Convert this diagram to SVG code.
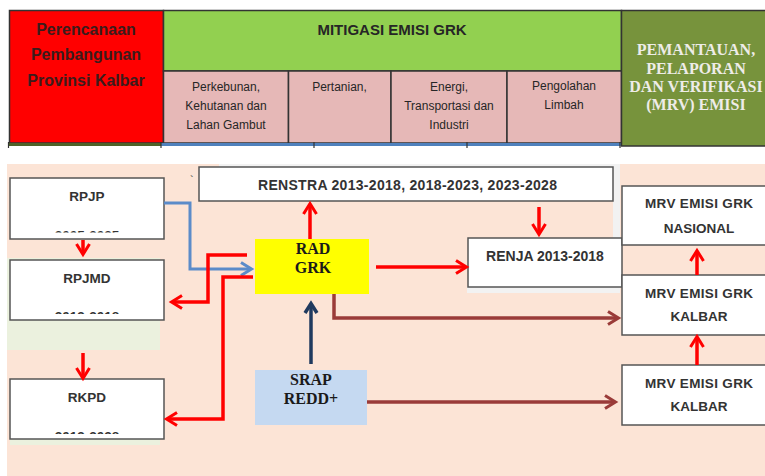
<svg xmlns="http://www.w3.org/2000/svg" width="765" height="476" viewBox="0 0 765 476">
<defs>
<style>
.t{font-family:'Liberation Sans',Arial,sans-serif;fill:#333;text-anchor:middle;font-weight:bold}
.n{font-weight:normal;fill:#262626;font-size:12px}
.sf{font-family:'Liberation Serif','Times New Roman',serif;font-weight:bold;text-anchor:middle;font-size:16px}
.box{fill:#fff;stroke:#555;stroke-width:1.5}
.cell{stroke:#333;stroke-width:1.5}
.red{fill:none;stroke:#ff0000;stroke-width:3.5}
.blue{fill:none;stroke:#5b8bc9;stroke-width:3}
.navy{fill:none;stroke:#1f3a5f;stroke-width:3.5}
.brown{fill:none;stroke:#9a3b39;stroke-width:3.5}
</style>
<marker id="mR" markerUnits="userSpaceOnUse" orient="auto" overflow="visible" refX="0" refY="0"><path d="M-9,-6.5 L1.5,0 L-9,6.5" fill="none" stroke="#ff0000" stroke-width="3"/></marker>
<marker id="mB" markerUnits="userSpaceOnUse" orient="auto" overflow="visible" refX="0" refY="0"><path d="M-9,-6.5 L1.5,0 L-9,6.5" fill="none" stroke="#5b8bc9" stroke-width="3"/></marker>
<marker id="mN" markerUnits="userSpaceOnUse" orient="auto" overflow="visible" refX="0" refY="0"><path d="M-8,-6 L1.5,0 L-8,6" fill="none" stroke="#1f3a5f" stroke-width="3.5"/></marker>
<marker id="mW" markerUnits="userSpaceOnUse" orient="auto" overflow="visible" refX="0" refY="0"><path d="M-9,-6.5 L1.5,0 L-9,6.5" fill="none" stroke="#9a3b39" stroke-width="3"/></marker>
<clipPath id="cRPJP"><rect x="10" y="178" width="154" height="54.5"/></clipPath>
<clipPath id="cRPJMD"><rect x="10" y="260" width="154" height="54"/></clipPath>
<clipPath id="cRKPD"><rect x="10" y="379" width="154" height="55"/></clipPath>
</defs>
<rect width="765" height="476" fill="#fff"/>

<!-- header table -->
<g id="hdr-perencanaan">
<rect class="cell" x="9.5" y="10.5" width="154" height="132.5" fill="#ff0000"/>
<g class="t" style="font-size:16px;fill:#3a1c1c">
<text x="86" y="35">Perencanaan</text>
<text x="86" y="60">Pembangunan</text>
<text x="86" y="86">Provinsi Kalbar</text>
</g>
</g>
<g id="hdr-mitigasi">
<rect class="cell" x="163.5" y="10.5" width="458" height="60.5" fill="#92d050"/>
<text class="t" x="392" y="35" style="font-size:15px;fill:#262626">MITIGASI EMISI GRK</text>
</g>
<g id="hdr-perkebunan">
<rect class="cell" x="163.5" y="71" width="125" height="72" fill="#e6b8b7"/>
<g class="t n"><text x="226" y="91">Perkebunan,</text><text x="226" y="110">Kehutanan dan</text><text x="226" y="129">Lahan Gambut</text></g>
</g>
<g id="hdr-pertanian">
<rect class="cell" x="288.5" y="71" width="102.5" height="72" fill="#e6b8b7"/>
<text class="t n" x="339.5" y="91">Pertanian,</text>
</g>
<g id="hdr-energi">
<rect class="cell" x="391" y="71" width="116" height="72" fill="#e6b8b7"/>
<g class="t n"><text x="449" y="91">Energi,</text><text x="449" y="110">Transportasi dan</text><text x="449" y="129">Industri</text></g>
</g>
<g id="hdr-limbah">
<rect class="cell" x="507" y="71" width="114.5" height="72" fill="#e6b8b7"/>
<g class="t n"><text x="564" y="90">Pengolahan</text><text x="564" y="109">Limbah</text></g>
</g>
<g id="hdr-mrv">
<rect x="621.5" y="10.5" width="145" height="135.5" fill="#77933c" stroke="#333" stroke-width="1.5"/>
<g class="sf" style="fill:#eeece8">
<text x="696" y="55">PEMANTAUAN,</text>
<text x="696" y="73.5">PELAPORAN</text>
<text x="696" y="92">DAN VERIFIKASI</text>
<text x="696" y="110">(MRV) EMISI</text>
</g>
</g>
<g id="hdr-bottom-strip">
<rect x="8" y="143" width="153" height="3" fill="#4f6228"/>
<rect x="161" y="143" width="460" height="3" fill="#4f81bd"/>
<g stroke="#333" stroke-width="1.2">
<line x1="8.5" y1="142" x2="8.5" y2="148"/><line x1="161" y1="142" x2="161" y2="148"/><line x1="314" y1="142" x2="314" y2="148"/><line x1="467" y1="142" x2="467" y2="148"/><line x1="620" y1="142" x2="620" y2="148"/>
</g>
</g>

<!-- lower background -->
<g id="background">
<rect x="7" y="164" width="758" height="312" fill="#fce4d6"/>
<rect x="219" y="164" width="401" height="4" fill="#f2f2f2"/>
<rect x="613" y="164" width="7" height="129" fill="#f2f2f2"/>
<rect x="467" y="287" width="153" height="6" fill="#f2f2f2"/>
<rect x="7" y="258" width="153" height="92" fill="#ebf1de"/>
<rect x="10" y="438" width="150" height="7" fill="#ebf1de"/>
<text x="190" y="184" style="font-family:'Liberation Sans',Arial,sans-serif;font-size:11px;fill:#333">`</text>
</g>

<!-- nodes -->
<g id="rpjp">
<rect class="box" x="10" y="178" width="154" height="61"/>
<text class="t" x="87" y="201" style="font-size:13.5px">RPJP</text>
<text class="t" x="87" y="239.5" style="font-size:13.5px" clip-path="url(#cRPJP)">2005-2025</text>
</g>
<g id="rpjmd">
<rect class="box" x="10" y="260" width="154" height="60"/>
<text class="t" x="87" y="283" style="font-size:13.5px">RPJMD</text>
<text class="t" x="87" y="320.7" style="font-size:13.5px" clip-path="url(#cRPJMD)">2013-2018</text>
</g>
<g id="rkpd">
<rect class="box" x="10" y="379" width="154" height="60"/>
<text class="t" x="87" y="402" style="font-size:13.5px">RKPD</text>
<text class="t" x="87" y="440.7" style="font-size:13.5px" clip-path="url(#cRKPD)">2013-2028</text>
</g>
<g id="renstra">
<rect class="box" x="199" y="167" width="414" height="34"/>
<text class="t" x="407.5" y="190" style="font-size:14px" textLength="299" lengthAdjust="spacing">RENSTRA 2013-2018, 2018-2023, 2023-2028</text>
</g>
<g id="rad-grk">
<rect x="255" y="239" width="114" height="55" fill="#ffff00"/>
<g class="sf" style="fill:#1a1a1a"><text x="313" y="254">RAD</text><text x="313" y="273">GRK</text></g>
</g>
<g id="renja">
<rect class="box" x="468" y="238" width="154" height="49"/>
<text class="t" x="545" y="261" style="font-size:14px">RENJA 2013-2018</text>
</g>
<g id="mrv-nasional">
<rect class="box" x="622" y="186" width="150" height="59"/>
<g class="t" style="font-size:13.5px"><text x="699" y="208" textLength="108" lengthAdjust="spacing">MRV EMISI GRK</text><text x="699" y="233">NASIONAL</text></g>
</g>
<g id="mrv-kalbar-1">
<rect class="box" x="622" y="275" width="150" height="60"/>
<g class="t" style="font-size:13.5px"><text x="699" y="298" textLength="108" lengthAdjust="spacing">MRV EMISI GRK</text><text x="699" y="321">KALBAR</text></g>
</g>
<g id="mrv-kalbar-2">
<rect class="box" x="622" y="365" width="150" height="60"/>
<g class="t" style="font-size:13.5px"><text x="699" y="388" textLength="108" lengthAdjust="spacing">MRV EMISI GRK</text><text x="699" y="411">KALBAR</text></g>
</g>
<g id="srap-redd">
<rect x="255" y="370" width="112" height="55" fill="#c5d9f1"/>
<g class="sf" style="fill:#1a1a1a"><text x="311" y="385">SRAP</text><text x="311" y="404">REDD+</text></g>
</g>

<!-- connectors -->
<g id="connectors">
<path class="blue" d="M164,203 H190 V269 H250" marker-end="url(#mB)"/>
<path class="red" d="M247,255 H208 V302 H173" marker-end="url(#mR)" stroke-linejoin="miter"/>
<path class="red" d="M253,277 H223 V419 H168" marker-end="url(#mR)"/>
<path class="red" d="M310,239 V205" marker-end="url(#mR)"/>
<path class="red" d="M376,267 H465" marker-end="url(#mR)"/>
<path class="red" d="M539,207 V233" marker-end="url(#mR)"/>
<path class="red" d="M83,240 V253" marker-end="url(#mR)"/>
<path class="red" d="M83,353 V377" marker-end="url(#mR)"/>
<path class="red" d="M697,275 V252" marker-end="url(#mR)"/>
<path class="red" d="M697,365 V338" marker-end="url(#mR)"/>
<path class="navy" d="M311,364 V305" marker-end="url(#mN)"/>
<path class="brown" d="M334,294 V318 H617" marker-end="url(#mW)"/>
<path class="brown" d="M367,402 H614" marker-end="url(#mW)"/>
</g>
</svg>
